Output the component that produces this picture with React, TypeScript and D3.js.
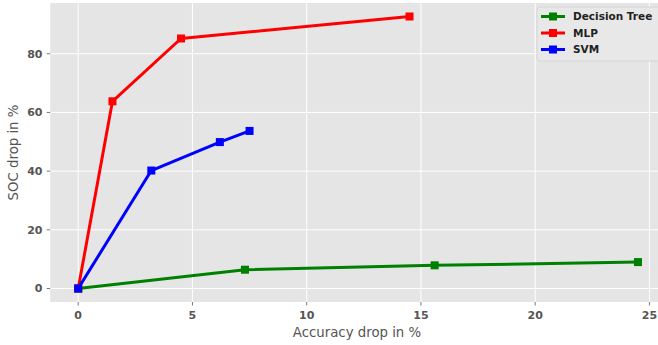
import React from "react";
import * as d3 from "d3";

const W = 658;
const H = 345;

const seriesNames = ["Decision Tree", "MLP", "SVM"];
const seriesColors = ["green", "red", "blue"];
const dtX = [0, 7.3, 15.6, 24.5];
const dtY = [0, 6.4, 7.9, 9.0];
const mlpX = [0, 1.5, 4.5, 14.5];
const mlpY = [0, 63.8, 85.2, 92.7];
const svmX = [0, 3.2, 6.2, 7.5];
const svmY = [0, 40.2, 49.9, 53.7];
const xTicks = [0, 5, 10, 15, 20, 25];
const yTicks = [0, 20, 40, 60, 80];

const seriesData = [
  { name: seriesNames[0], color: seriesColors[0], xs: dtX, ys: dtY },
  { name: seriesNames[1], color: seriesColors[1], xs: mlpX, ys: mlpY },
  { name: seriesNames[2], color: seriesColors[2], xs: svmX, ys: svmY },
];

export default function App() {
  const left = 50.2;
  const top = 3;
  const bottom = 302;
  const right = 666;
  const x = d3.scaleLinear().domain([-1.225, 25.725]).range([left, right]);
  const y = d3.scaleLinear().domain([-4.6, 97.3]).range([bottom, top]);
  const line = d3
    .line<[number, number]>()
    .x((d) => x(d[0]))
    .y((d) => y(d[1]));
  const tickColor = "#555555";
  return (
    <svg
      width={W}
      height={H}
      style={{ position: "absolute", left: 0, top: 0, fontFamily: "DejaVu Sans" }}
    >
      <rect x={0} y={0} width={W} height={H} fill="white" />
      <defs>
        <clipPath id="plotclip">
          <rect x={left} y={top} width={right - left} height={bottom - top} />
        </clipPath>
      </defs>
      <rect x={left} y={top} width={right - left} height={bottom - top} fill="#E5E5E5" />
      {xTicks.map((t) => (
        <line key={"gx" + t} x1={x(t)} x2={x(t)} y1={top} y2={bottom} stroke="white" strokeWidth={1} />
      ))}
      {yTicks.map((t) => (
        <line key={"gy" + t} x1={left} x2={right} y1={y(t)} y2={y(t)} stroke="white" strokeWidth={1} />
      ))}
      {xTicks.map((t) => (
        <g key={"tx" + t}>
          <line x1={x(t)} x2={x(t)} y1={bottom} y2={bottom + 3.5} stroke={tickColor} strokeWidth={0.8} />
          <text x={x(t)} y={319} textAnchor="middle" fontSize={11} fontWeight="bold" fill={tickColor}>
            {t}
          </text>
        </g>
      ))}
      {yTicks.map((t) => (
        <g key={"ty" + t}>
          <line x1={left - 3.5} x2={left} y1={y(t)} y2={y(t)} stroke={tickColor} strokeWidth={0.8} />
          <text x={42.5} y={y(t)} dy="0.36em" textAnchor="end" fontSize={11} fontWeight="bold" fill={tickColor}>
            {t}
          </text>
        </g>
      ))}
      <text x={357} y={336.5} textAnchor="middle" fontSize={13.3} fill={tickColor}>
        Accuracy drop in %
      </text>
      <text
        transform={`translate(17.5, ${(top + bottom) / 2}) rotate(-90)`}
        textAnchor="middle"
        fontSize={13.3}
        fill={tickColor}
      >
        SOC drop in %
      </text>
      <g clipPath="url(#plotclip)">
        {seriesData.map((s) => {
          const pts: [number, number][] = s.xs.map((v, i) => [v, s.ys[i]]);
          return (
            <g key={s.name}>
              <path d={line(pts) || ""} fill="none" stroke={s.color} strokeWidth={3} strokeLinejoin="round" />
              {pts.map((p, i) => (
                <rect key={i} x={x(p[0]) - 4} y={y(p[1]) - 4} width={8} height={8} fill={s.color} />
              ))}
            </g>
          );
        })}
      </g>
      <g>
        <rect x={537} y={7} width={130} height={54} rx={3} fill="#E8E8E8" stroke="#D5D5D5" strokeWidth={1} />
        {seriesData.map((s, i) => {
          const ly = 16.5 + i * 16.5;
          return (
            <g key={"leg" + s.name}>
              <line x1={541} x2={565} y1={ly} y2={ly} stroke={s.color} strokeWidth={3} />
              <rect x={549} y={ly - 4} width={8} height={8} fill={s.color} />
              <text x={573} y={ly} dy="0.35em" fontSize={10.5} fontWeight="bold" fill="#222">
                {s.name}
              </text>
            </g>
          );
        })}
      </g>
    </svg>
  );
}
